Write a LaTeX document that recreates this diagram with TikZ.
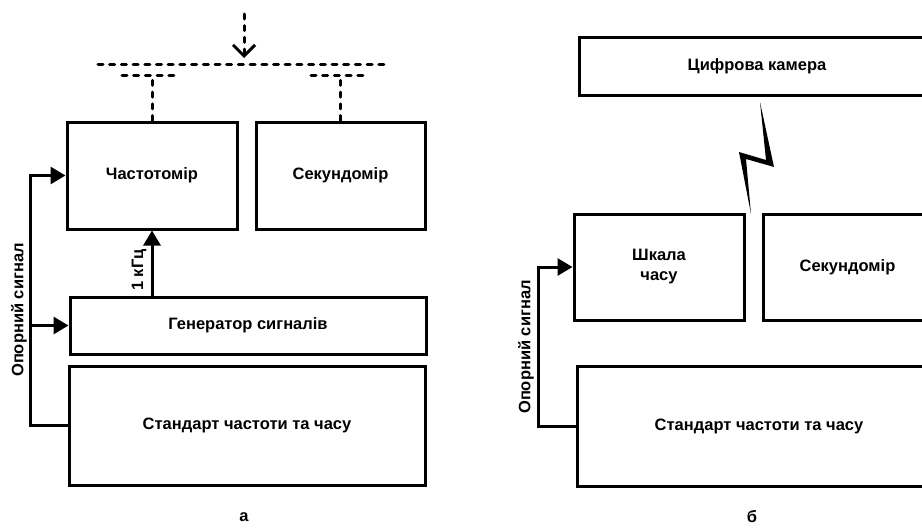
\documentclass[tikz,border=0pt]{standalone}
\usepackage{fontspec}
\setmainfont{Liberation Sans}
\usetikzlibrary{arrows.meta}
\begin{document}
\begin{tikzpicture}[x=1pt,y=-1pt,
  box/.style={draw, line width=3pt, inner sep=0pt, font=\bfseries\fontsize{16.5}{20}\selectfont, align=center},
  lbl/.style={inner sep=0pt, font=\bfseries\fontsize{16.5}{20}\selectfont},
  wire/.style={line width=3pt},
  arr/.style={wire, -{Triangle[length=15pt,width=17pt]}},
  dsh/.style={line width=3pt, line cap=round, dash pattern=on 5pt off 6.7pt}]
\useasboundingbox (0,0) rectangle (922,530);
\begin{scope}
\clip (0,0) rectangle (922,530);
% left panel
\node[box, minimum width=170pt, minimum height=107pt] (ch) at (152,175.5) {Частотомір};
\node[box, minimum width=169pt, minimum height=107pt] (s1) at (340.5,175.5) {Секундомір};
\node[box, minimum width=356pt, minimum height=57pt] (gen) at (248,325.5) {Генератор сигналів};
\node[box, minimum width=356pt, minimum height=119pt] (st1) at (247,425.5) {Стандарт частоти та часу};
\draw[arr] (st1.west) -- ++(-37,0) coordinate (tr1) |- (ch.west);
\draw[arr] (tr1 |- gen.west) -- (gen.west);
\draw[arr] (ch.south |- gen.north) -- (ch.south);
\node[lbl, rotate=90] (k) at (139,270) {1 кГц};
\node[lbl, rotate=90] (op1) at (19,310) {Опорний сигнал};
% dashed bus
\coordinate (busL) at (98,64);
\coordinate (busR) at (387,64);
\coordinate (inp) at (244,14);
\coordinate (inq) at (244,58);
\draw[dsh] (busL) -- (busR);
\draw[dsh, -{Straight Barb[length=11pt,width=22pt,line width=3pt]}] (inp) -- (inq);
\coordinate (sbl1) at (122,75);
\coordinate (sbl2) at (177,75);
\coordinate (sbr1) at (311,75);
\coordinate (sbr2) at (368,75);
\draw[dsh] (sbl1) -- (sbl2);
\draw[dsh] (sbr1) -- (sbr2);
\draw[dsh] (ch.north) -- (ch.north |- sbl1);
\draw[dsh] (s1.north) -- (s1.north |- sbr1);
\node[lbl] (ca) at (244,517) {а};
% right panel
\node[box, minimum width=356pt, minimum height=58pt] (cam) at (757,66) {Цифрова камера};
\node[box, minimum width=170pt, minimum height=106pt] (shk) at (659,267) {Шкала\\часу};
\node[box, minimum width=169pt, minimum height=106pt] (s2) at (847.5,267) {Секундомір};
\node[box, minimum width=364pt, minimum height=120pt] (st2) at (759,426) {Стандарт частоти та часу};
\draw[arr] (st2.west) -- ++(-37,0) |- (shk.west);
\node[lbl, rotate=90] (op2) at (526,347) {Опорний сигнал};
\fill (760,102) -- (774,167) -- (746,159) -- (751,214) -- (739,152) -- (766,160) -- cycle;
\node[lbl] (cb) at (752,517) {б};
\end{scope}
\end{tikzpicture}
\end{document}
